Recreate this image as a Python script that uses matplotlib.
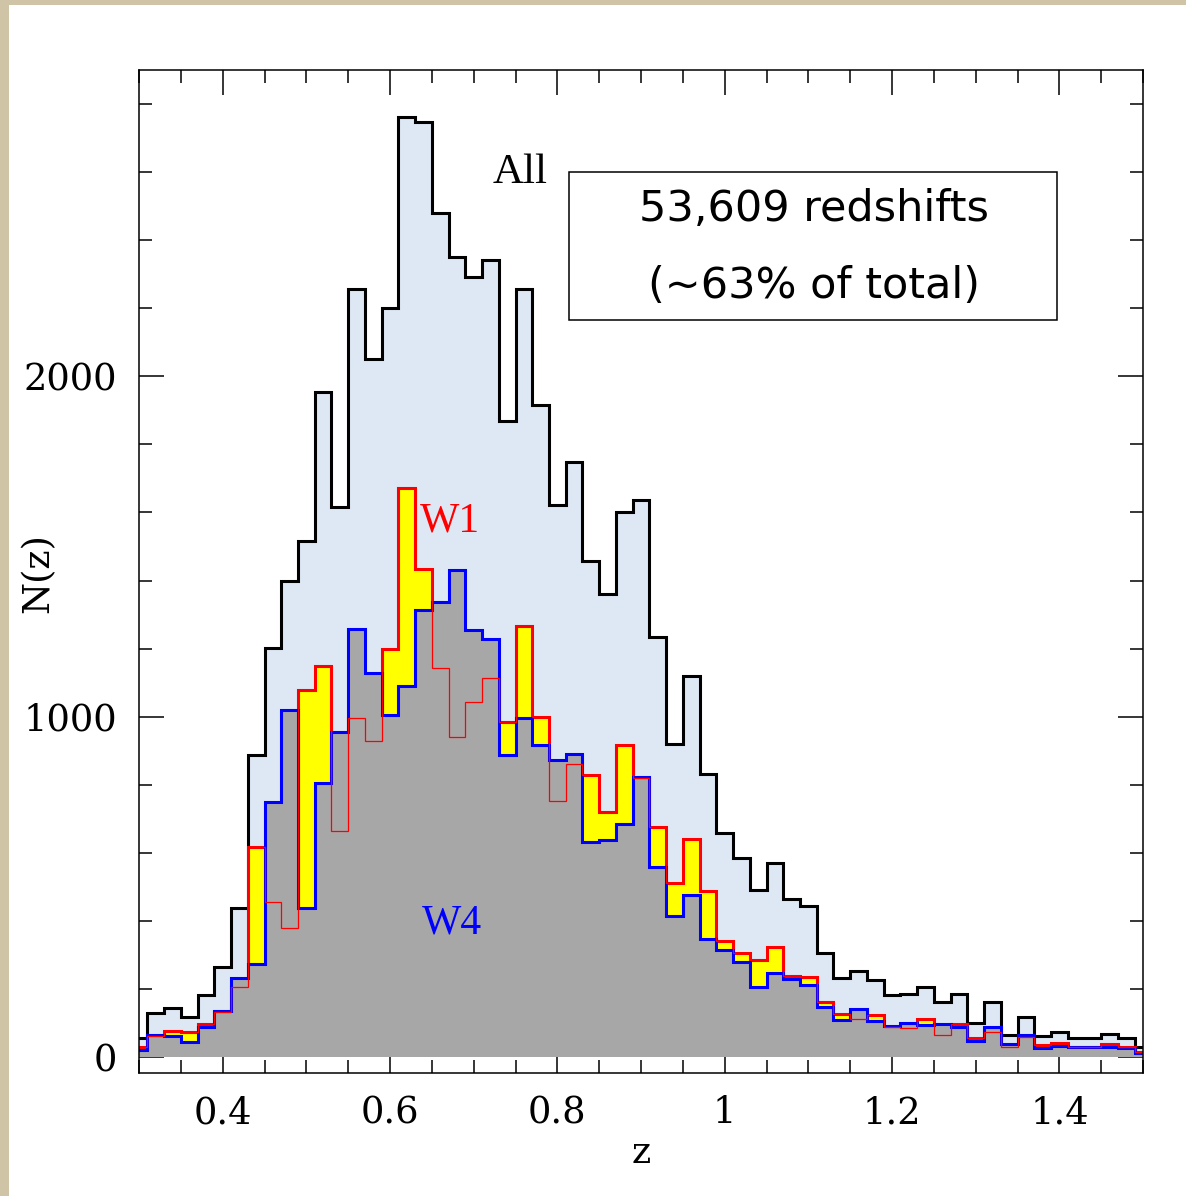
import numpy as np
import matplotlib
matplotlib.use("Agg")
import matplotlib.pyplot as plt
from matplotlib.ticker import MultipleLocator, FuncFormatter
from matplotlib.patches import Rectangle

# redshift bins, width 0.02
z_edges = np.round(0.29 + 0.02 * np.arange(62), 2)

n_all = [56, 129, 144, 118, 182, 265, 437, 887, 1202, 1399,
         1515, 1954, 1616, 2256, 2052, 2202, 2762, 2747, 2480, 2352,
         2292, 2343, 1868, 2256, 1915, 1621, 1748, 1457, 1359, 1601,
         1638, 1234, 921, 1120, 832, 657, 584, 490, 571, 463,
         443, 305, 231, 253, 226, 182, 185, 206, 162, 184,
         101, 161, 65, 118, 63, 74, 55, 57, 67, 57, 30]

n_w1 = [30, 62, 76, 72, 96, 131, 206, 616, 456, 378,
        1078, 1149, 664, 997, 928, 1200, 1673, 1435, 1142, 940,
        1042, 1113, 983, 1266, 998, 753, 860, 828, 720, 916,
        820, 676, 510, 642, 488, 341, 307, 285, 324, 239,
        234, 161, 125, 113, 123, 89, 84, 112, 65, 98,
        55, 72, 28, 58, 35, 40, 30, 28, 37, 30, 16]

n_w4 = [22, 65, 62, 45, 89, 135, 233, 272, 750, 1021,
        437, 806, 955, 1259, 1127, 1004, 1090, 1313, 1337, 1431,
        1254, 1229, 887, 995, 916, 872, 890, 632, 637, 684,
        822, 559, 414, 476, 347, 314, 278, 206, 247, 229,
        211, 146, 110, 140, 105, 90, 101, 95, 96, 89,
        47, 89, 37, 65, 25, 33, 28, 28, 30, 27, 11]

x_ticks = [0.4, 0.6, 0.8, 1.0, 1.2, 1.4]
y_ticks = [0, 1000, 2000]

SERIF = "DejaVu Serif"
TIMES = "Liberation Serif"

fig = plt.figure(figsize=(11.86, 11.96), dpi=100, facecolor="#cfc4a6")
fig.patches.append(Rectangle((9 / 1186, 0), 1, 1 - 5 / 1196, transform=fig.transFigure,
                             facecolor="white", edgecolor="none", zorder=-10))

ax = fig.add_axes([139 / 1186, 1 - 1073 / 1196, 1004 / 1186, 1003 / 1196])
ax.set_facecolor("white")
ax.set_axisbelow(True)

ax.stairs(n_all, z_edges, fill=True, color="#dde8f4", zorder=1)
ax.stairs(n_all, z_edges, color="black", lw=2.2, zorder=2)
ax.stairs(n_w1, z_edges, fill=True, color="#ffff00", zorder=3)
ax.stairs(n_w1, z_edges, color="#ff0000", lw=2.2, zorder=4)
ax.stairs(n_w4, z_edges, fill=True, color="#a7a7a7", zorder=5)
ax.stairs(n_w4, z_edges, color="#0000ff", lw=2.2, zorder=6)
ax.stairs(n_w1, z_edges, color="#ff0000", lw=0.9, zorder=7)

ax.set_xlim(0.3, 1.5)
ax.set_ylim(-47, 2900)

ax.xaxis.set_major_locator(plt.FixedLocator(x_ticks))
ax.xaxis.set_minor_locator(MultipleLocator(0.05))
ax.xaxis.set_major_formatter(FuncFormatter(lambda v, p: f"{v:g}"))
ax.yaxis.set_major_locator(plt.FixedLocator(y_ticks))
ax.yaxis.set_minor_locator(MultipleLocator(200))

ax.tick_params(which="both", direction="in", top=True, right=True, width=1.1,
               labelsize=26.5, pad=16)
ax.tick_params(which="major", length=18)
ax.tick_params(which="minor", length=9.5)
for lab in ax.get_xticklabels() + ax.get_yticklabels():
    lab.set_family(SERIF)
for sp in ax.spines.values():
    sp.set_linewidth(1.1)
    sp.set_zorder(8)

ax.set_xlabel("z", family=SERIF, fontsize=26.5)
ax.xaxis.set_label_coords(0.5, -0.062)
ax.set_ylabel("N(z)", family=SERIF, fontsize=26.5)
ax.yaxis.label.set_va("center")
ax.yaxis.set_label_coords(-0.1, 0.4985)

ax.text(0.3795, 0.8973, "All", transform=ax.transAxes, family=TIMES, fontsize=31,
        ha="center", va="center", zorder=9)
ax.text(0.3098, 0.5503, "W1", transform=ax.transAxes, family=TIMES, fontsize=30,
        color="#ff0000", ha="center", va="center", zorder=9)
ax.text(0.3118, 0.1496, "W4", transform=ax.transAxes, family=TIMES, fontsize=30,
        color="#0000ff", ha="center", va="center", zorder=9)

ax.add_patch(Rectangle((0.4283, 0.7507), 0.486, 0.1476, transform=ax.transAxes,
                       facecolor="white", edgecolor="black", lw=1.1, zorder=9))
ax.text(0.6723, 0.8614, "53,609 redshifts", transform=ax.transAxes, fontsize=31,
        family="DejaVu Sans", ha="center", va="center", zorder=10)
ax.text(0.6723, 0.7846, "(~63% of total)", transform=ax.transAxes, fontsize=31,
        family="DejaVu Sans", ha="center", va="center", zorder=10)

fig.savefig("out.png", dpi=100, facecolor=fig.get_facecolor())
